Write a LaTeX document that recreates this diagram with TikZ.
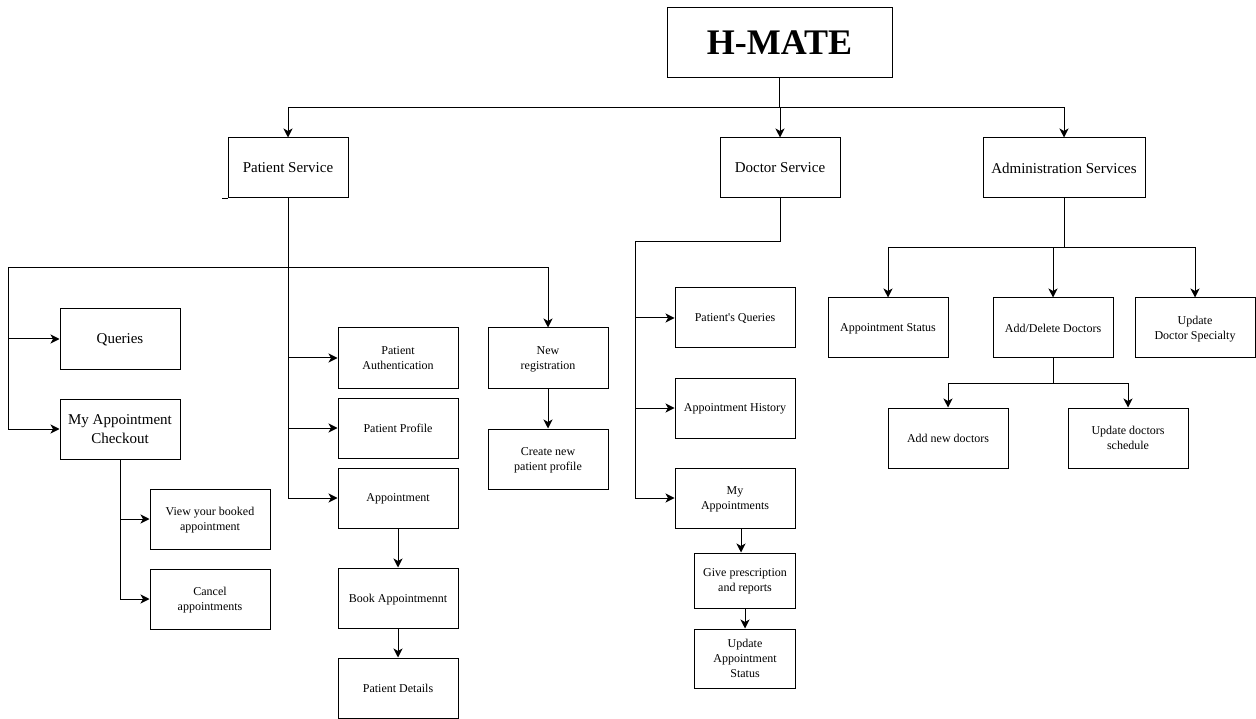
\documentclass[tikz,border=0pt]{standalone}
\usepackage{fontspec}
\setmainfont{Liberation Serif}
\usetikzlibrary{arrows.meta}
\tikzset{
  bx/.style={draw, line width=1pt, minimum width=120pt, minimum height=60pt, align=center, inner sep=1pt, text depth=0pt, yshift=0pt, font=\fontsize{12}{15}\selectfont},
  bigbx/.style={bx, font=\fontsize{15}{19}\selectfont},
  line/.style={line width=1pt},
  arr/.style={line width=1pt, -{Stealth[length=9pt,width=9pt,inset=2.5pt]}},
}
\begin{document}
\begin{tikzpicture}[x=1pt,y=-1pt]
\useasboundingbox (0,0) rectangle (1256,719);
% title
\node[draw, line width=1pt, minimum width=225pt, minimum height=70pt, font=\fontsize{36}{40}\selectfont\bfseries] (hm) at (779.5,43) {H-MATE};
% level 1
\node[bigbx] (ps) at (288,168) {Patient Service};
\node[bigbx] (ds) at (780,168) {Doctor Service};
\node[bigbx, minimum width=162pt] (as) at (1064,168) {Administration Services};
% patient side
\node[bigbx] (q) at (120,339) {Queries};
\node[bigbx] (mac) at (120,429) {My Appointment\\Checkout};
\node[bx] (vb) at (210,519) {View your booked\\appointment};
\node[bx] (ca) at (210,599) {Cancel\\appointments};
\node[bx] (pa) at (398,358) {Patient\\Authentication};
\node[bx] (pp) at (398,428) {Patient Profile};
\node[bx] (ap) at (398,498) {Appointment};
\node[bx] (ba) at (398,598) {Book Appointmennt};
\node[bx] (pd) at (398,688) {Patient Details};
\node[bx] (nr) at (548,358) {New\\registration};
\node[bx] (cn) at (548,459) {Create new\\patient profile};
% doctor side
\node[bx] (pq) at (735,318) {Patient\textquotesingle s Queries};
\node[bx] (ah) at (735,408) {Appointment History};
\node[bx] (ma) at (735,498) {My\\Appointments};
\node[bx, minimum width=101pt, minimum height=55pt] (gp) at (745,580.5) {Give prescription\\and reports};
\node[bx, minimum width=101pt, minimum height=59pt] (ua) at (745,658.5) {Update\\Appointment\\Status};
% admin side
\node[bx] (ast) at (888,328) {Appointment Status};
\node[bx] (ad) at (1053,328) {Add/Delete Doctors};
\node[bx] (us) at (1195,328) {Update\\Doctor Specialty};
\node[bx] (an) at (948,438) {Add new doctors};
\node[bx] (usch) at (1128,438) {Update doctors\\schedule};
% top connectors
\draw[line] (hm.south) -- (779.5,108) coordinate (hj);
\draw[arr] (hj) -| (ps.north);
\draw[arr] (hj) -| (as.north);
\draw[arr] (hj) -| (ds.north);
% patient service
\draw[line] (ps.south west) -- ++(-6,0);
\draw[line] (ps.south) -- (288,268) coordinate (pj);
\draw[arr] (pj) -| (nr.north);
\draw[line] (pj) -- (8,268) coordinate (pl);
\draw[arr] (pl) |- (q.west);
\draw[arr] (pl) |- (mac.west);
\draw[arr] (ps.south) |- (pa.west);
\draw[arr] (ps.south) |- (pp.west);
\draw[arr] (ps.south) |- (ap.west);
\draw[arr] (mac.south) |- (vb.west);
\draw[arr] (mac.south) |- (ca.west);
\draw[arr] (ap) -- (ba);
\draw[arr] (ba) -- (pd);
\draw[arr] (nr) -- (cn);
% doctor service
\draw[line] (ds.south) -- (780,242) coordinate (dj) -- (635,242) coordinate (dl);
\draw[arr] (dl) |- (pq.west);
\draw[arr] (dl) |- (ah.west);
\draw[arr] (dl) |- (ma.west);
\draw[arr] ([xshift=6pt]ma.south) -- ([xshift=6pt]ma.south |- gp.north);
\draw[arr] (gp) -- (ua);
% admin
\draw[line] (as.south) -- (1064,248) coordinate (aj);
\draw[arr] (aj) -| (ast.north);
\draw[arr] (aj) -| (ad.north);
\draw[arr] (aj) -| (us.north);
\draw[line] (ad.south) -- (1053,383) coordinate (adj);
\draw[arr] (adj) -| (an.north);
\draw[arr] (adj) -| (usch.north);
\end{tikzpicture}
\end{document}
